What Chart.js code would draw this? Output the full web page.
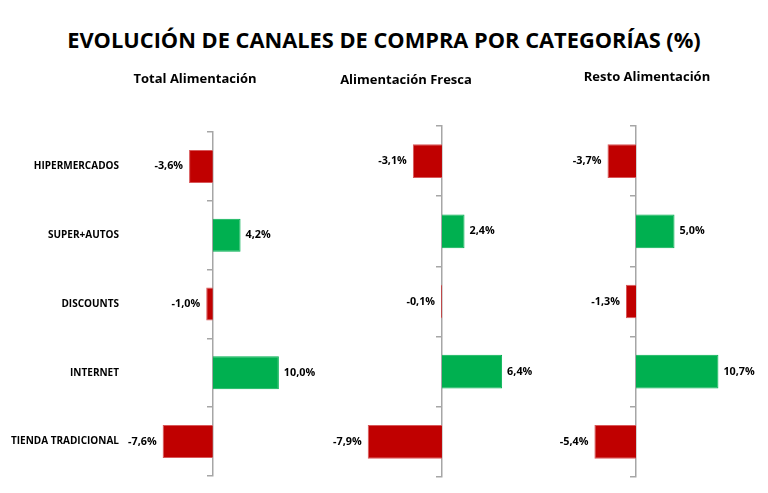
<!DOCTYPE html>
<html>
<head>
<meta charset="utf-8">
<script src="https://cdn.jsdelivr.net/npm/chart.js@4/dist/chart.umd.min.js"></script>
<style>
  body { margin: 0; background: #fff; }
  #wrap { position: relative; width: 768px; height: 493px; overflow: hidden; font-family: "Open Sans", sans-serif; }
  canvas { position: absolute; top: 0; }
  .titulo { position: absolute; left: 0; width: 768px; top: 24px; text-align: center; font-weight: bold; font-size: 21.8px; line-height: 32px; color: #000; }
  .sub { position: absolute; width: 200px; text-align: center; font-weight: bold; font-size: 13px; line-height: 18px; color: #000; }
</style>
</head>
<body>
<div id="wrap">
  <div class="titulo">EVOLUCIÓN DE CANALES DE COMPRA POR CATEGORÍAS (%)</div>
  <canvas id="c1" width="322" height="493" style="left:0px"></canvas>
  <canvas id="c2" width="240" height="493" style="left:320px"></canvas>
  <canvas id="c3" width="208" height="493" style="left:560px"></canvas>
</div>
<script>
const categories = ["HIPERMERCADOS", "SUPER+AUTOS", "DISCOUNTS", "INTERNET", "TIENDA TRADICIONAL"];
const totalAlimentacion = [-3.6, 4.2, -1.0, 10.0, -7.6];
const alimentacionFresca = [-3.1, 2.4, -0.1, 6.4, -7.9];
const restoAlimentacion = [-3.7, 5.0, -1.3, 10.7, -5.4];
const panelTitles = ["Total Alimentación", "Alimentación Fresca", "Resto Alimentación"];

const ROJO = "#C00000";
const ROJO_BORDE = "#D8585A";
const VERDE = "#00B050";
const GRIS = "#A6A6A6";

// etiquetas de valor al final de cada barra
const valueLabels = {
  id: "valueLabels",
  afterDatasetsDraw(chart) {
    const ctx = chart.ctx;
    const values = chart.data.datasets[0].data;
    chart.getDatasetMeta(0).data.forEach((bar, i) => {
      const v = values[i];
      const txt = v.toFixed(1).replace(".", ",") + "%";
      ctx.save();
      ctx.font = "bold 10.8px 'Open Sans'";
      ctx.fillStyle = "#000";
      ctx.textBaseline = "middle";
      if (v < 0) {
        ctx.textAlign = "right";
        ctx.fillText(txt, Math.min(bar.x, bar.base) - 6, bar.y);
      } else {
        ctx.textAlign = "left";
        ctx.fillText(txt, Math.max(bar.x, bar.base) + 5, bar.y);
      }
      ctx.restore();
    });
  }
};

function CreatePanel(id, values, opts) {
  const ctx = document.getElementById(id);
  return new Chart(ctx, {
    type: "bar",
    data: {
      labels: categories,
      datasets: [{
        data: values,
        backgroundColor: values.map(v => v < 0 ? ROJO : VERDE),
        borderColor: values.map(v => v < 0 ? ROJO_BORDE : VERDE),
        borderWidth: 1,
        borderSkipped: "start",
        categoryPercentage: 1,
        barPercentage: 0.48
      }]
    },
    options: {
      indexAxis: "y",
      responsive: false,
      animation: false,
      layout: { padding: opts.padding },
      plugins: { legend: { display: false }, tooltip: { enabled: false } },
      scales: {
        x: { type: "linear", min: opts.min, max: opts.max, display: false },
        y: {
          display: opts.showLabels,
          grid: { display: false, drawTicks: false },
          border: { display: false },
          ticks: { padding: 6, color: "#000", font: { family: "Open Sans", weight: "bold", size: 10 } },
          afterFit: scale => { scale.width = opts.labelWidth || 0; }
        },
        eje: {
          axis: "y",
          type: "category",
          labels: categories,
          position: { x: 0 },
          offset: true,
          z: 1,
          grid: { offset: true, drawOnChartArea: false, tickLength: 5, color: GRIS, lineWidth: 1.5 },
          border: { color: GRIS, width: 1.5 },
          ticks: { display: false }
        }
      }
    },
    plugins: [valueLabels]
  });
}

function CreateSubtitle(text, cx, cy) {
  const d = document.createElement("div");
  d.className = "sub";
  d.textContent = text;
  d.style.left = (cx - 100) + "px";
  d.style.top = (cy - 9) + "px";
  document.getElementById("wrap").appendChild(d);
}

CreatePanel("c1", totalAlimentacion, {
  showLabels: true, labelWidth: 125,
  min: -13.3, max: 13.2,
  padding: { top: 132, bottom: 17, left: 0, right: 22 }
});
CreatePanel("c2", alimentacionFresca, {
  showLabels: false,
  min: -10.85, max: 10.43,
  padding: { top: 126, bottom: 16, left: 20, right: 20 }
});
CreatePanel("c3", restoAlimentacion, {
  showLabels: false,
  min: -7.27, max: 13.5,
  padding: { top: 126, bottom: 16, left: 20, right: 28 }
});

CreateSubtitle(panelTitles[0], 195, 78);
CreateSubtitle(panelTitles[1], 406, 79);
CreateSubtitle(panelTitles[2], 647, 76);
</script>
</body>
</html>
